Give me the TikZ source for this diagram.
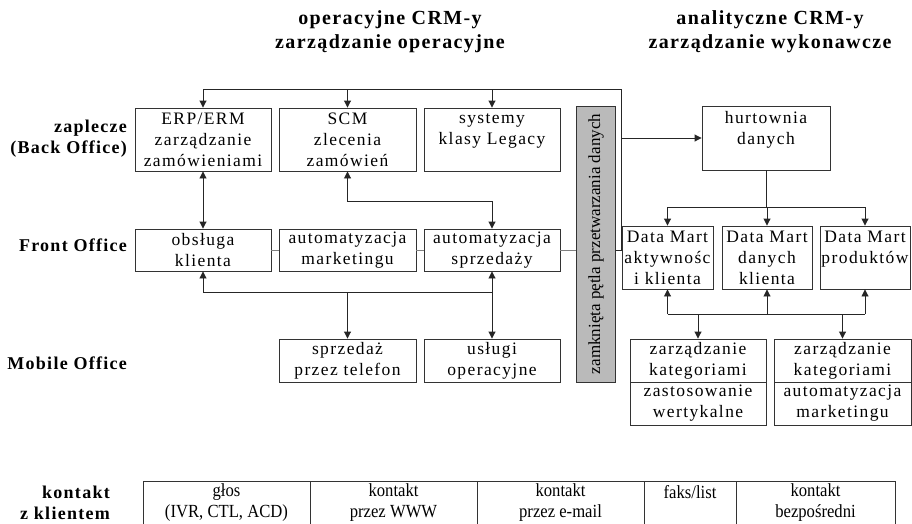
\documentclass[tikz,border=0pt]{standalone}
\usepackage{fontspec}
\setmainfont{Liberation Serif}
\newfontfamily\boxfam[LetterSpace=8]{Liberation Serif}
\newfontfamily\headfam[LetterSpace=7]{Liberation Serif}
\newfontfamily\tabfam[FakeStretch=0.9]{Liberation Serif}
\usetikzlibrary{arrows.meta}

\tikzset{
  x=1pt, y=-1pt,
  box/.style={draw=black!80, line width=0.9pt, fill=white, inner sep=0pt,
    align=center, font=\boxfam\fontsize{17.5}{21}\selectfont},
  cell/.style={draw=black!80, line width=0.9pt, inner sep=0pt, align=center,
    minimum height=43pt, font=\tabfam\fontsize{18.5}{21}\selectfont},
  wide/.style={minimum width=136pt},
  bar/.style={draw=black!80, line width=0.9pt, fill=black!27, inner sep=0pt,
    minimum width=39pt, minimum height=276pt,
    font=\fontsize{17}{20}\selectfont},
  head/.style={align=center, inner sep=0pt,
    font=\headfam\bfseries\fontsize{20}{24}\selectfont},
  rowlabel/.style={anchor=east, align=right, inner sep=0pt,
    font=\headfam\bfseries\fontsize{18}{21}\selectfont},
  line/.style={draw=black!85, line width=0.9pt},
  link/.style={draw=black!50, line width=0.9pt},
  arr/.style={line, -{Triangle[length=7pt,width=7pt]}},
  arrs/.style={line, {Triangle[length=7pt,width=7pt]}-{Triangle[length=7pt,width=7pt]}},
}

\begin{document}
\begin{tikzpicture}
\clip (0,0) rectangle (912,523);
\fill[white] (0,0) rectangle (912,523);

% column headings
\node[head] (hop) at (390,32) {operacyjne CRM-y\\zarządzanie operacyjne};
\node[head] (han) at (770,32) {analityczne CRM-y\\zarządzanie wykonawcze};

% row labels
\node[rowlabel] (lback)  at (127,138.5) {zaplecze\\(Back Office)};
\node[rowlabel] (lfront) at (127,245) {Front Office};
\node[rowlabel] (lmob)   at (127,363) {Mobile Office};
\node[rowlabel] (lkont)  at (110,502.5) {kontakt\\z klientem};

% back office
\node[box, wide, minimum height=63pt] (erp) at (203,139.5) {ERP/ERM\\zarządzanie\\zamówieniami};
\node[box, minimum width=137pt, minimum height=63pt] (scm) at (347.5,139.5) {SCM\\zlecenia\\zamówień};
\node[box, wide, minimum height=63pt] (sys) at (492,139.5) {systemy\\klasy Legacy\\~};

% front office
\node[box, wide, minimum height=42pt] (obs) at (203,250) {obsługa\\klienta};
\node[box, minimum width=137pt, minimum height=42pt] (mkt) at (347.5,250) {automatyzacja\\marketingu};
\node[box, wide, minimum height=42pt] (sales) at (492,250) {automatyzacja\\sprzedaży};

% mobile office
\node[box, minimum width=137pt, minimum height=43pt] (tel) at (347.5,360.5) {sprzedaż\\przez telefon};
\node[box, wide, minimum height=43pt] (usl) at (492,360.5) {usługi\\operacyjne};

% closed processing loop bar
\node[bar] (loop) at (596,244) {};
\node[rotate=90, inner sep=0pt, font=\fontsize{17}{20}\selectfont] (looptxt) at (loop.center) {zamknięta pętla przetwarzania danych};

% analytic side
\node[box, minimum width=128pt, minimum height=64pt] (hurt) at (766,138) {hurtownia\\danych\\~};
\node[box, minimum width=91pt, minimum height=63pt] (dm1) at (667.5,257.5) {Data Mart\\aktywnośc\\i klienta};
\node[box, minimum width=90pt, minimum height=63pt] (dm2) at (767,257.5) {Data Mart\\danych\\klienta};
\node[box, minimum width=90pt, minimum height=63pt] (dm3) at (865,257.5) {Data Mart\\produktów\\~};

\node[box, wide, minimum height=43pt] (cat1) at (698,360.5) {zarządzanie\\kategoriami};
\node[box, wide, minimum height=43pt] (vert) at (698,403.5) {zastosowanie\\wertykalne};
\node[box, minimum width=137pt, minimum height=43pt] (cat2) at (842.5,360.5) {zarządzanie\\kategoriami};
\node[box, minimum width=137pt, minimum height=43pt] (amkt) at (842.5,403.5) {automatyzacja\\marketingu};

% customer contact channels
\node[cell, minimum width=167pt] (voice) at (226.5,502.5) {głos\\(IVR, CTL, ACD)};
\node[cell, minimum width=167pt] (www)   at (393.5,502.5) {kontakt\\przez WWW};
\node[cell, minimum width=167pt] (mail)  at (560.5,502.5) {kontakt\\przez e-mail};
\node[cell, minimum width=92pt]  (fax)   at (690,502.5) {faks/list\\~};
\node[cell, minimum width=159pt] (direct) at (815.5,502.5) {kontakt\\bezpośredni};

% helper coordinates for routed connectors
\coordinate (ltop) at (0,89);
\coordinate (lright) at (621,0);
\coordinate (scmrun) at (0,201);
\coordinate (fbus) at (0,292);
\coordinate (dbus) at (0,207);
\coordinate (mbus) at (0,314);

% loop from the bar back to the back-office systems
\draw[line] (loop.east |- sales) -- (lright |- sales) -- (lright |- ltop) -- (erp.north |- ltop);
\draw[arr] (erp.north |- ltop) -- (erp.north);
\draw[arr] (scm.north |- ltop) -- (scm.north);
\draw[arr] (sys.north |- ltop) -- (sys.north);

% back office <-> front office
\draw[arrs] (erp.south) -- (obs.north);
\draw[arrs] (scm.south) -- (scm.south |- scmrun) -| (sales.north);

% front office row links
\draw[link] (obs.east) -- (mkt.west);
\draw[link] (mkt.east) -- (sales.west);
\draw[link] (sales.east) -- (loop.west |- sales);

% front office <-> mobile office
\draw[line] (obs.south |- fbus) -- (sales.south |- fbus);
\draw[arr] (obs.south |- fbus) -- (obs.south);
\draw[arr] (sales.south |- fbus) -- (sales.south);
\draw[arr] (tel.north |- fbus) -- (tel.north);
\draw[arr] (usl.north |- fbus) -- (usl.north);

% bar -> data warehouse
\draw[arr] (lright |- hurt.west) -- (hurt.west);

% data warehouse -> data marts
\draw[line] (hurt.south) -- (hurt.south |- dbus);
\draw[line] (dm1.north |- dbus) -- (dm3.north |- dbus);
\draw[arr] (dm1.north |- dbus) -- (dm1.north);
\draw[arr] (dm2.north |- dbus) -- (dm2.north);
\draw[arr] (dm3.north |- dbus) -- (dm3.north);

% data marts <-> analytic applications
\draw[line] (dm1.south |- mbus) -- (dm3.south |- mbus);
\draw[arr] (dm1.south |- mbus) -- (dm1.south);
\draw[arr] (dm2.south |- mbus) -- (dm2.south);
\draw[arr] (dm3.south |- mbus) -- (dm3.south);
\draw[arr] (cat1.north |- mbus) -- (cat1.north);
\draw[arr] (cat2.north |- mbus) -- (cat2.north);
\end{tikzpicture}
\end{document}
